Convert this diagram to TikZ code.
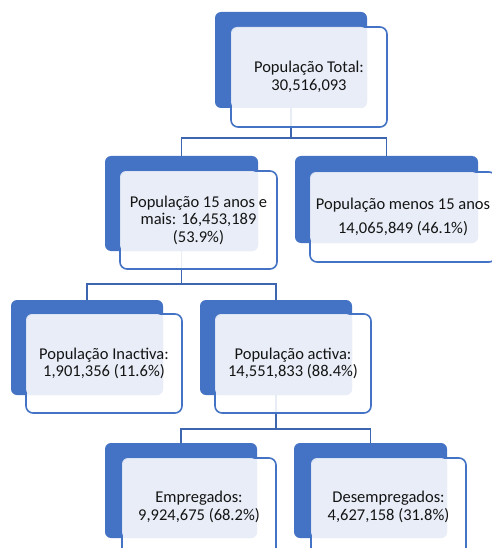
\documentclass[tikz,border=0pt]{standalone}
\usepackage{fontspec}
\setmainfont{Carlito}
\usetikzlibrary{fit,calc}
\definecolor{bluefill}{HTML}{4472C4}
\definecolor{conncol}{HTML}{3E65B0}
\definecolor{textfill}{HTML}{E9EDF7}
\pgfdeclarelayer{background}
\pgfsetlayers{background,main}
\tikzset{
  backbox/.style={fill=bluefill, draw=none, rounded corners=6pt},
  framebox/.style={fill=white, fill opacity=0.88, draw=bluefill, draw opacity=1, line width=1.6pt, rounded corners=7pt},
  labelbox/.style={fill=textfill, fill opacity=0.92, draw=none, rounded corners=6pt},
  lbl/.style={font=\fontsize{16.5pt}{17.5pt}\selectfont, align=center, text=black!92, inner sep=0pt},
  conn/.style={draw=conncol, line width=1.8pt},
}
\newcommand{\orgunit}[6]{%
  \path[backbox] (#2) rectangle (#3);
  \node[inner sep=0pt, minimum size=0pt, fit={(#2) (#3)}] (#1b) {};
  \path[framebox] (#4) rectangle (#5);
  \path[labelbox] (#4) rectangle (#3);
  \node[lbl] (#1) at ($(#4)!0.5!(#5)$) {#6};
}
\begin{document}
\begin{tikzpicture}[x=1pt,y=-1pt]
\useasboundingbox (0,0) rectangle (491,548);
\orgunit{top}{215,12}{367,108}{231,27}{387,127}{População Total:\\30,516,093}
\orgunit{ml}{105,156}{258,251}{120,171}{277,269}{População 15 anos e\\mais: 16,453,189\\(53.9\%)}
\orgunit{mr}{295,156}{478,243}{310,172}{496,262}{População menos 15 anos\\[7pt]14,065,849 (46.1\%)}
\orgunit{ina}{11,300}{163,395}{26,314}{182,413}{População Inactiva:\\1,901,356 (11.6\%)}
\orgunit{act}{200,300}{352,395}{215,314}{371,413}{População activa:\\14,551,833 (88.4\%)}
\orgunit{emp}{105,443}{257,538}{122,458}{276,556}{Empregados:\\9,924,675 (68.2\%)}
\orgunit{des}{294,443}{447,538}{311,458}{466,556}{Desempregados:\\4,627,158 (31.8\%)}
\begin{pgfonlayer}{background}
  \draw[conn] (topb.center) -- (topb.center |- 0,138) -| (mlb.north);
  \draw[conn] (topb.center |- 0,138) -| (mrb.north);
  \draw[conn] (mlb.center) -- (mlb.center |- 0,284) -| (inab.north);
  \draw[conn] (mlb.center |- 0,284) -| (actb.north);
  \draw[conn] (actb.center) -- (actb.center |- 0,429) -| (empb.north);
  \draw[conn] (actb.center |- 0,429) -| (desb.north);
\end{pgfonlayer}
\end{tikzpicture}
\end{document}
